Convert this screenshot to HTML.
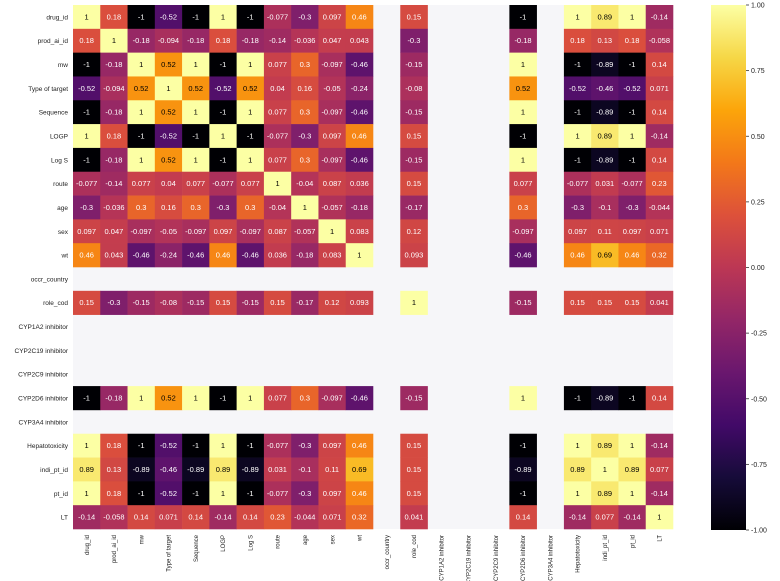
<!DOCTYPE html>
<html><head><meta charset="utf-8"><style>
html,body{margin:0;padding:0;background:#fff;}
svg{display:block;font-family:"Liberation Sans",sans-serif;}
</style></head><body>
<svg id="chart" width="780" height="581" viewBox="0 0 780 581"></svg>
<script>
const labels=["drug_id","prod_ai_id","mw","Type of target","Sequence","LOGP","Log S","route","age","sex","wt","occr_country","role_cod","CYP1A2 inhibitor","CYP2C19 inhibitor","CYP2C9 inhibitor","CYP2D6 inhibitor","CYP3A4 inhibitor","Hepatotoxicity","indi_pt_id","pt_id","LT"];
const N=null;
const rowDrug=[1,.18,-1,-.52,-1,1,-1,-.077,-.3,.097,.46,N,.15,N,N,N,-1,N,1,.89,1,-.14];
const rowProd=[.18,1,-.18,-.094,-.18,.18,-.18,-.14,-.036,.047,.043,N,-.3,N,N,N,-.18,N,.18,.13,.18,-.058];
const rowMw=[-1,-.18,1,.52,1,-1,1,.077,.3,-.097,-.46,N,-.15,N,N,N,1,N,-1,-.89,-1,.14];
const rowType=[-.52,-.094,.52,1,.52,-.52,.52,.04,.16,-.05,-.24,N,-.08,N,N,N,.52,N,-.52,-.46,-.52,.071];
const rowRoute=[-.077,-.14,.077,.04,.077,-.077,.077,1,-.04,.087,.036,N,.15,N,N,N,.077,N,-.077,.031,-.077,.23];
const rowAge=[-.3,-.036,.3,.16,.3,-.3,.3,-.04,1,-.057,-.18,N,-.17,N,N,N,.3,N,-.3,-.1,-.3,-.044];
const rowSex=[.097,.047,-.097,-.05,-.097,.097,-.097,.087,-.057,1,.083,N,.12,N,N,N,-.097,N,.097,.11,.097,.071];
const rowWt=[.46,.043,-.46,-.24,-.46,.46,-.46,.036,-.18,.083,1,N,.093,N,N,N,-.46,N,.46,.69,.46,.32];
const rowNaN=[N,N,N,N,N,N,N,N,N,N,N,N,N,N,N,N,N,N,N,N,N,N];
const rowRole=[.15,-.3,-.15,-.08,-.15,.15,-.15,.15,-.17,.12,.093,N,1,N,N,N,-.15,N,.15,.15,.15,.041];
const rowIndi=[.89,.13,-.89,-.46,-.89,.89,-.89,.031,-.1,.11,.69,N,.15,N,N,N,-.89,N,.89,1,.89,.077];
const rowLT=[-.14,-.058,.14,.071,.14,-.14,.14,.23,-.044,.071,.32,N,.041,N,N,N,.14,N,-.14,.077,-.14,1];
const matrix=[rowDrug,rowProd,rowMw,rowType,rowMw,rowDrug,rowMw,rowRoute,rowAge,rowSex,rowWt,rowNaN,rowRole,rowNaN,rowNaN,rowNaN,rowMw,rowNaN,rowDrug,rowIndi,rowDrug,rowLT];
const cbTicks=[1,0.75,0.5,0.25,0,-0.25,-0.5,-0.75,-1];
const cbTickLabels=["1.00","0.75","0.50","0.25","0.00","-0.25","-0.50","-0.75","-1.00"];

const NS="http://www.w3.org/2000/svg";
const svg=document.getElementById('chart');
function mk(t,a,p){const e=document.createElementNS(NS,t);for(const k in a)e.setAttribute(k,a[k]);(p||svg).appendChild(e);return e;}
const X0=73,X1=673,Y0=5,Y1=529,n=labels.length;
const cw=(X1-X0)/n,ch=(Y1-Y0)/n;
const xPos=i=>X0+i*cw, yPos=i=>Y0+i*ch;
const stops=["#000004","#160b39","#420a68","#6a176e","#932667","#bc3754","#dd513a","#f37819","#fca50a","#f6d746","#fcffa4"];
function hx(s){return [1,3,5].map(i=>parseInt(s.substr(i,2),16));}
function cmap(v){let t=(v+1)/2;t=Math.max(0,Math.min(1,t));const f=t*10,i=Math.min(9,Math.floor(f)),r=f-i;const a=hx(stops[i]),b=hx(stops[i+1]);return a.map((c,k)=>Math.round(c+(b[k]-c)*r));}
function lum(c){const l=c.map(x=>{x/=255;return x<=0.03928?x/12.92:Math.pow((x+0.055)/1.055,2.4);});return .2126*l[0]+.7152*l[1]+.0722*l[2];}

const bg=mk('rect',{x:X0,y:Y0,width:X1-X0,height:Y1-Y0,fill:'#f6f6f9'});


const cells=mk('g',{});


for(let r=0;r<n;r++){for(let c=0;c<n;c++){const v=matrix[r][c];if(v===null)continue;
 const col=cmap(v);
 const rc=mk('rect',{x:xPos(c),y:yPos(r),width:cw+0.3,height:ch+0.3,fill:`rgb(${col})`},cells);
 
 
 const tx=mk('text',{x:xPos(c)+cw/2,y:yPos(r)+ch/2+2.5,'text-anchor':'middle','font-size':'7.5',fill:lum(col)>0.408?'#000':'#fff'},cells);
 tx.textContent=String(v);
 
 
}}
for(let i=0;i<n;i++){
 const yl=mk('text',{x:X0-5,y:yPos(i)+ch/2+2.5,'text-anchor':'end','font-size':'6.5',fill:'#222'});
 yl.textContent=labels[i];
 
 
 const cx=xPos(i)+cw/2+2.2;
 const xl=mk('text',{x:0,y:0,'text-anchor':'end','font-size':'6','fill':'#222',transform:`translate(${cx},${Y1+6}) rotate(-90)`});
 xl.textContent=labels[i];
 
 
}
const CX=711,CW=35,CY0=5,CY1=530;
const defs=mk('defs',{});
const lg=mk('linearGradient',{id:'cb',x1:0,y1:1,x2:0,y2:0},defs);
stops.forEach((s,i)=>mk('stop',{offset:i/10,'stop-color':s},lg));
const cb=mk('rect',{x:CX,y:CY0,width:CW,height:CY1-CY0,fill:'url(#cb)'});


const cy=v=>CY0+(1-v)/2*(CY1-CY0);
cbTicks.forEach((v,i)=>{
 mk('line',{x1:CX+CW,x2:CX+CW+3,y1:cy(v),y2:cy(v),stroke:'#333','stroke-width':0.8});
 const t=mk('text',{x:CX+CW+5,y:cy(v)+2.5,'font-size':'7',fill:'#222'});
 t.textContent=cbTickLabels[i];
 
 
});
</script>
</body></html>
